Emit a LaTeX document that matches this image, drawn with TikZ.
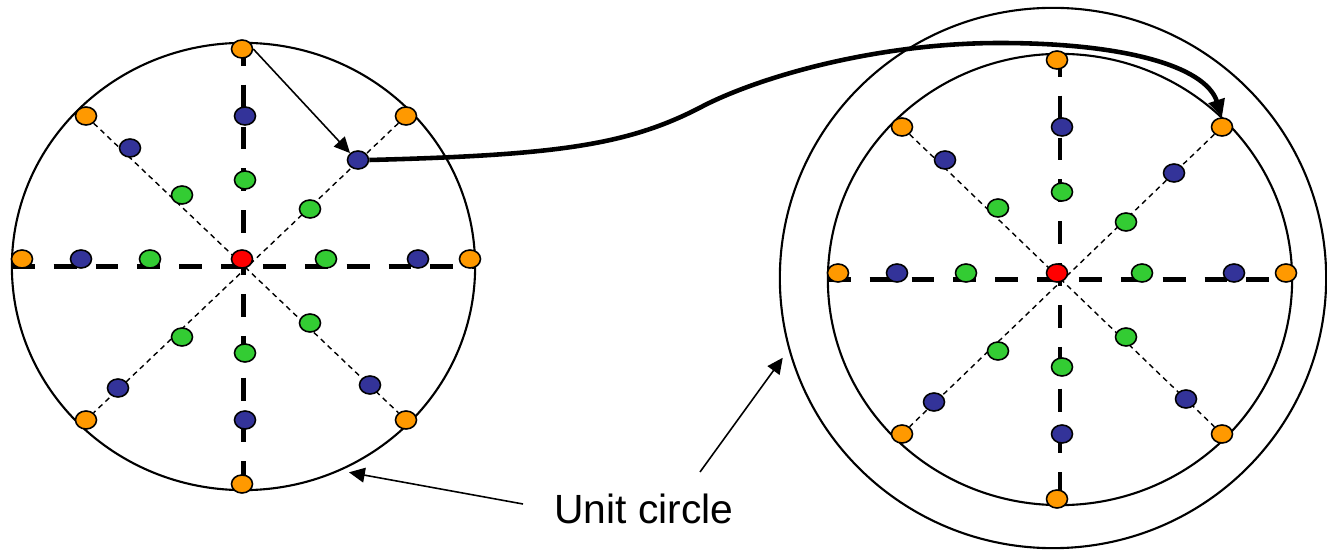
\documentclass[tikz,border=0pt]{standalone}
\usepackage{fontspec}
\setmainfont{Liberation Sans}
\usetikzlibrary{shapes.geometric, arrows.meta, backgrounds}
\definecolor{dotorange}{RGB}{255,153,0}
\definecolor{dotblue}{RGB}{51,51,153}
\definecolor{dotgreen}{RGB}{51,204,51}
\definecolor{dotred}{RGB}{255,0,0}
\tikzset{
  ring/.style={ellipse, draw, line width=0.6pt, inner sep=0pt, outer sep=0pt},
  dot/.style={ellipse, draw, line width=0.45pt, minimum width=0.21cm,
    minimum height=0.18cm, inner sep=0pt},
  axis/.style={line width=1.35pt, dash pattern=on 6.5pt off 5.4pt},
  spoke/.style={line width=0.4pt, dash pattern=on 1.5pt off 1.2pt},
  pointer/.style={-{Triangle[length=4.5pt, width=4.2pt]}, line width=0.45pt},
  hop/.style={-{Triangle[length=5pt, width=4.6pt]}, line width=1.3pt}
}

\begin{document}
\begin{tikzpicture}[x=0.01cm, y=-0.01cm]
  \useasboundingbox (0,0) rectangle (1327,552);

  % circles
  \node[ring, minimum width=4.63cm, minimum height=4.47cm] (lcirc) at (243.5,266.5) {};
  \node[ring, minimum width=4.64cm, minimum height=4.51cm] (rcirc) at (1060,279.5) {};
  \node[ring, minimum width=5.46cm, minimum height=5.40cm] (rout) at (1053,278) {};

  % left points
  \foreach \n/\x/\y in {n/242/49, nw/86/116, ne/406/116, w/22/259, e/470/259, sw/86/420, se/406/420, s/242/484}
    \node[dot, fill=dotorange] (lo-\n) at (\x,\y) {};
  \foreach \n/\x/\y in {n/245/116, nw/130/148, ne/358/160, w/81/259, e/418/259, sw/118/388, se/370/385, s/245/420}
    \node[dot, fill=dotblue] (lb-\n) at (\x,\y) {};
  \foreach \n/\x/\y in {n/245/180, nw/182/195, ne/310/209, w/150/259, e/326/259, sw/182/337, se/310/323, s/245/353}
    \node[dot, fill=dotgreen] (lg-\n) at (\x,\y) {};
  \node[dot, fill=dotred] (lr) at (242,259) {};

  % right points
  \foreach \n/\x/\y in {n/1057/60, nw/902/127, ne/1222/127, w/838/273, e/1286/273, sw/902/434, se/1222/434, s/1057/499}
    \node[dot, fill=dotorange] (ro-\n) at (\x,\y) {};
  \foreach \n/\x/\y in {n/1062/127, nw/945/160, ne/1174/173, w/897/273, e/1234/273, sw/934/402, se/1186/399, s/1062/434}
    \node[dot, fill=dotblue] (rb-\n) at (\x,\y) {};
  \foreach \n/\x/\y in {n/1062/192, nw/998/208, ne/1126/222, w/966/273, e/1142/273, sw/998/351, se/1126/337, s/1062/367}
    \node[dot, fill=dotgreen] (rg-\n) at (\x,\y) {};
  \node[dot, fill=dotred] (rr) at (1057,273) {};

  % axes and spokes behind the points
  \begin{scope}[on background layer]
    \draw[axis] (lcirc.west) -- (lcirc.east);
    \draw[axis] (lcirc.north) -- (lcirc.south);
    \draw[spoke] (lo-nw) -- (lo-se);
    \draw[spoke] (lo-ne) -- (lo-sw);
    \draw[axis] (rcirc.west) -- (rcirc.east);
    \draw[axis] (rcirc.north) -- (rcirc.south);
    \draw[spoke] (ro-nw) -- (ro-se);
    \draw[spoke] (ro-ne) -- (ro-sw);
  \end{scope}

  % arrows
  \draw[pointer] (lo-n.east) -- (lb-ne.north west);
  \draw[hop] (lb-ne.east) .. controls (560,155) and (630,145) .. (705,105)
    .. controls (765,75) and (880,43) .. (1000,43)
    .. controls (1120,43) and (1205,65) .. (ro-ne.north);

  % label
  \node[font=\fontsize{11.6}{14}\selectfont] (unit) at (644,509) {Unit circle};
  \coordinate (unit-l) at (523,504);
  \coordinate (unit-r) at (700,472);
  \draw[pointer, shorten >=3pt] (unit-l) -- (lcirc.-65);
  \draw[pointer, shorten >=3.2pt] (unit-r) -- (rout.195);
\end{tikzpicture}
\end{document}
